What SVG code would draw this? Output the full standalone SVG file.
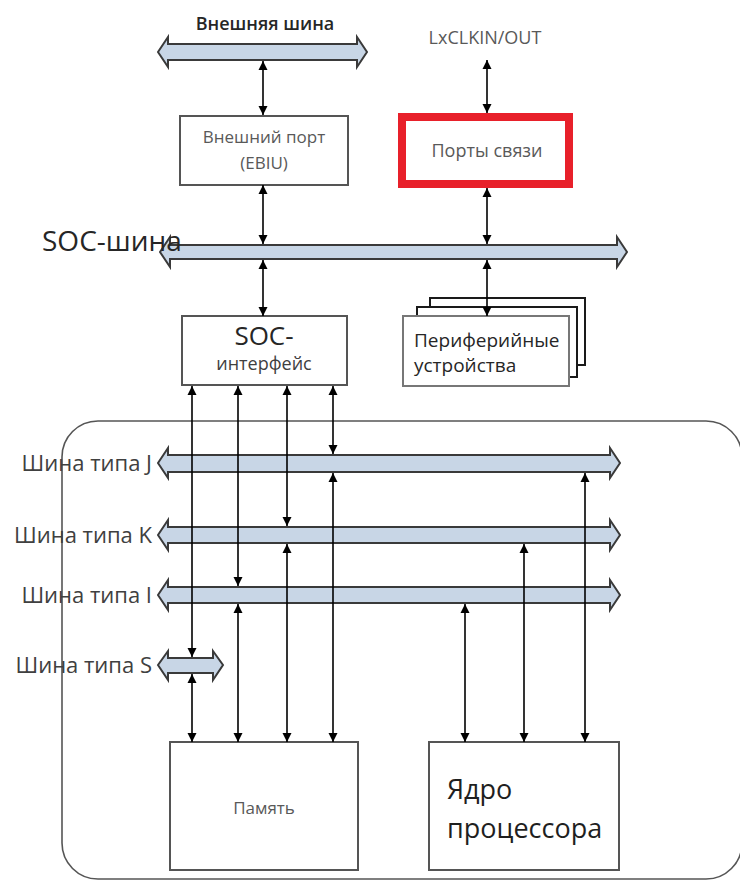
<svg xmlns="http://www.w3.org/2000/svg" width="740" height="882" viewBox="0 0 740 882">
<defs>
<marker id="ah" viewBox="0 0 10 10" refX="10" refY="5" markerWidth="9" markerHeight="11" markerUnits="userSpaceOnUse" orient="auto-start-reverse">
<path d="M0,0 L10,5 L0,10 Z" fill="#000"/>
</marker>
</defs>
<style>
.bus{fill:#c8d6e6;stroke:#3a3a3a;stroke-width:2;stroke-linejoin:miter}
.box{fill:#fff;stroke:#555;stroke-width:2}
.con{stroke:#000;stroke-width:1.6;fill:none;marker-start:url(#ah);marker-end:url(#ah)}
.t{font-family:"Open Sans","DejaVu Sans",sans-serif}
.lbl{font-family:"Open Sans","DejaVu Sans",sans-serif;fill:#404040;font-size:22px;text-anchor:end}
</style>
<rect x="62" y="421" width="680" height="458" rx="36" fill="none" stroke="#555" stroke-width="1.6"/>

<g id="ext-bus">
<path class="bus" d="M158,52 L168,37 L168,44 L357,44 L357,37 L367,52 L357,67 L357,60 L168,60 L168,67 Z"/>
<text class="t" x="265" y="30" font-size="18" font-weight="600" fill="#262626" text-anchor="middle">Внешняя шина</text>
</g>
<g id="lxclk">
<text class="t" x="485" y="44" font-size="18" fill="#595959" text-anchor="middle">LxCLKIN/OUT</text>
</g>
<g id="ebiu">
<rect class="box" x="180" y="116" width="168" height="69"/>
<text class="t" x="264" y="143" font-size="17" fill="#595959" text-anchor="middle">Внешний порт</text>
<text class="t" x="264" y="169" font-size="17" fill="#595959" text-anchor="middle">(EBIU)</text>
</g>
<g id="links">
<rect x="402" y="117" width="167" height="67" fill="#fff" stroke="#e8202a" stroke-width="8"/>
<text class="t" x="487" y="157" font-size="18" fill="#595959" text-anchor="middle">Порты связи</text>
</g>
<g id="soc-bus">
<path class="bus" d="M160,252 L170,237 L170,245 L617,245 L617,237 L627,252 L617,267 L617,259 L170,259 L170,267 Z"/>
<text class="t" x="42" y="251" font-size="28" fill="#262626">SOC-шина</text>
</g>
<g id="soc-if">
<rect class="box" x="182" y="316" width="165" height="69"/>
<text class="t" x="264" y="345" font-size="26" fill="#262626" text-anchor="middle">SOC-</text>
<text class="t" x="264" y="370" font-size="18" fill="#404040" text-anchor="middle">интерфейс</text>
</g>
<g id="periph">
<rect x="430" y="298" width="155" height="67" fill="#fff" stroke="#1a1a1a" stroke-width="2"/>
<rect x="417" y="307" width="160" height="70" fill="#fff" stroke="#1a1a1a" stroke-width="2"/>
<rect x="403" y="316" width="166" height="70" fill="#fff" stroke="#777" stroke-width="2"/>
<text class="t" x="414" y="347" font-size="19" fill="#262626">Периферийные</text>
<text class="t" x="414" y="372" font-size="19" fill="#262626">устройства</text>
</g>
<g id="bus-j">
<path class="bus" d="M158,463 L168,448 L168,455 L610,455 L610,448 L620,463 L610,478 L610,472 L168,472 L168,478 Z"/>
<text class="lbl" x="152" y="471">Шина типа J</text>
</g>
<g id="bus-k">
<path class="bus" d="M158,535 L168,520 L168,527 L610,527 L610,520 L620,535 L610,550 L610,543 L168,543 L168,550 Z"/>
<text class="lbl" x="152" y="543">Шина типа K</text>
</g>
<g id="bus-i">
<path class="bus" d="M158,595 L168,580 L168,587 L610,587 L610,580 L620,595 L610,610 L610,603 L168,603 L168,610 Z"/>
<text class="lbl" x="152" y="603">Шина типа I</text>
</g>
<g id="bus-s">
<path class="bus" d="M158,665 L168,651 L168,658 L213,658 L213,651 L223,665 L213,680 L213,673 L168,673 L168,680 Z"/>
<text class="lbl" x="152" y="673">Шина типа S</text>
</g>
<g id="memory">
<rect class="box" x="170" y="742" width="188" height="128"/>
<text class="t" x="264" y="814" font-size="17" fill="#595959" text-anchor="middle">Память</text>
</g>
<g id="core">
<rect class="box" x="429" y="742" width="190" height="128"/>
<text class="t" x="447" y="799" font-size="27" fill="#1f1f1f">Ядро</text>
<text class="t" x="447" y="838" font-size="27" fill="#1f1f1f">процессора</text>
</g>

<g id="connectors">
<line class="con" x1="263" y1="61" x2="263" y2="115"/>
<line class="con" x1="263" y1="185" x2="263" y2="244"/>
<line class="con" x1="263" y1="260" x2="263" y2="316"/>
<line class="con" x1="487" y1="60" x2="487" y2="113"/>
<line class="con" x1="487" y1="188" x2="487" y2="244"/>
<line class="con" x1="487" y1="260" x2="487" y2="316"/>
<line class="con" x1="192" y1="386" x2="192" y2="657"/>
<line class="con" x1="192" y1="674" x2="192" y2="742"/>
<line class="con" x1="238" y1="386" x2="238" y2="586"/>
<line class="con" x1="238" y1="604" x2="238" y2="742"/>
<line class="con" x1="287" y1="386" x2="287" y2="526"/>
<line class="con" x1="287" y1="544" x2="287" y2="742"/>
<line class="con" x1="333" y1="386" x2="333" y2="454"/>
<line class="con" x1="333" y1="473" x2="333" y2="742"/>
<line class="con" x1="465" y1="604" x2="465" y2="742"/>
<line class="con" x1="524" y1="544" x2="524" y2="742"/>
<line class="con" x1="585" y1="473" x2="585" y2="742"/>
</g>
</svg>
